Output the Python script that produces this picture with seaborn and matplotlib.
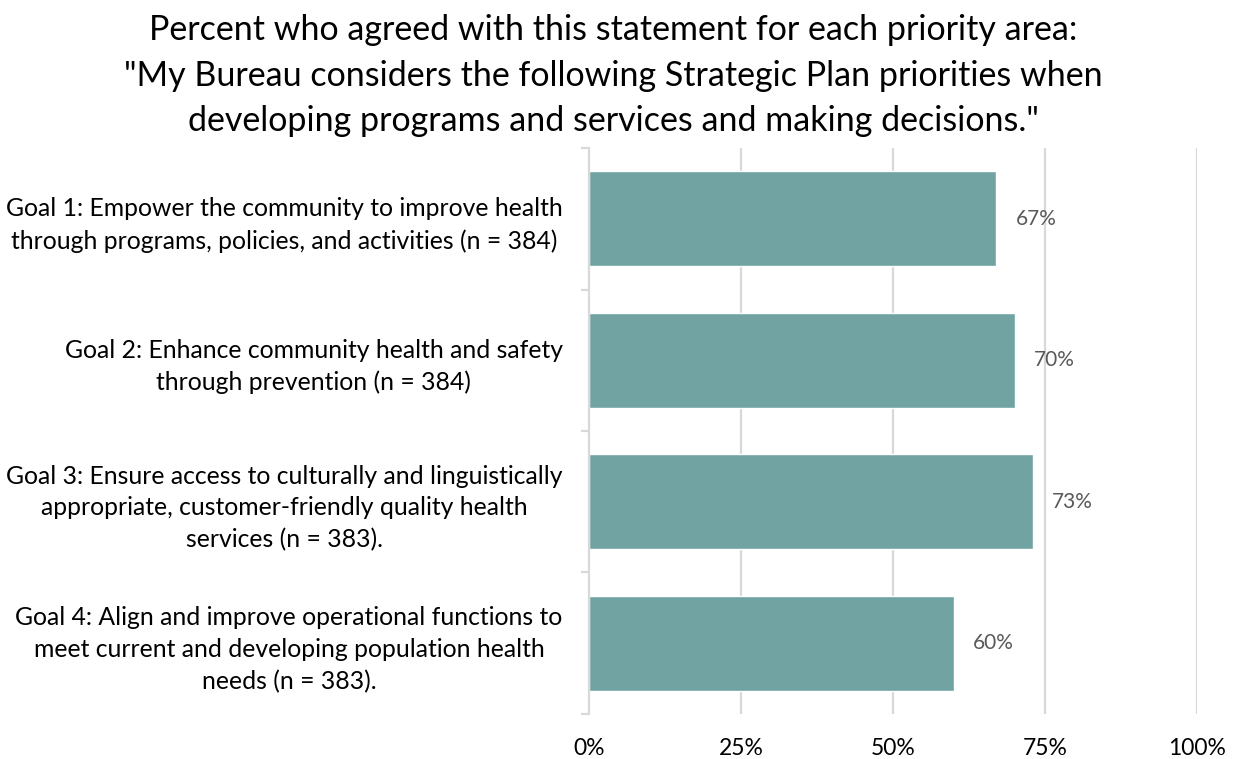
import matplotlib
matplotlib.use("Agg")
import matplotlib.pyplot as plt
from matplotlib.ticker import FixedLocator, PercentFormatter
import seaborn as sns
import pandas as pd

# Survey results per Strategic Plan goal
goals = [
    "Goal 1: Empower the community to improve health\nthrough programs, policies, and activities (n = 384)",
    "Goal 2: Enhance community health and safety\nthrough prevention (n = 384)",
    "Goal 3: Ensure access to culturally and linguistically\nappropriate, customer-friendly quality health\nservices (n = 383).",
    "Goal 4: Align and improve operational functions to\nmeet current and developing population health\nneeds (n = 383).",
]
percent_agreed = [67, 70, 73, 60]
x_ticks = [0, 25, 50, 75, 100]

title = ('Percent who agreed with this statement for each priority area:\n'
         '"My Bureau considers the following Strategic Plan priorities when\n'
         'developing programs and services and making decisions."')

df = pd.DataFrame({"goal": goals, "pct": percent_agreed})

sns.set_theme(style="white")
plt.rcParams["font.family"] = ["Lato", "DejaVu Sans"]

BAR = "#71A3A3"
GRID = "#D9D9D9"

fig = plt.figure(figsize=(12.34, 7.59), dpi=100)
ax = fig.add_axes([0.4773, 0.0593, 0.4927, 0.7457])

sns.barplot(data=df, x="pct", y="goal", orient="h", color=BAR,
            width=0.67, saturation=1, ax=ax)

ax.set_xlim(0, 100)
ax.set_ylim(len(goals) - 0.5, -0.5)
ax.set_xlabel("")
ax.set_ylabel("")

# vertical gridlines
for v in x_ticks[1:]:
    ax.axvline(v, color=GRID, lw=1.6, zorder=0)

for s in ["top", "right", "bottom"]:
    ax.spines[s].set_visible(False)
ax.spines["left"].set_color(GRID)
ax.spines["left"].set_linewidth(1.6)

ax.xaxis.set_major_locator(FixedLocator(x_ticks))
ax.xaxis.set_major_formatter(PercentFormatter(decimals=0))
ax.tick_params(axis="x", length=0, pad=17, labelsize=16.5, labelcolor="#000000")

# category labels at centres, tick marks at category boundaries
ax.set_yticks(range(len(goals)))
ax.set_yticklabels(goals, multialignment="center", linespacing=1.45)
ax.tick_params(axis="y", which="major", length=0, pad=19, labelsize=17.8,
               labelcolor="#000000")
ax.yaxis.set_minor_locator(FixedLocator([i - 0.5 for i in range(len(goals) + 1)]))
ax.tick_params(axis="y", which="minor", left=True, length=6, width=1.6,
               color=GRID)

for i, v in enumerate(percent_agreed):
    ax.text(v + 3.2, i, f"{v}%", va="center", ha="left",
            fontsize=15, color="#595959")

fig.text(0.497, 0.981, title, ha="center", va="top", fontsize=24.5,
         linespacing=1.52, color="#000000")

fig.savefig("out.png", dpi=100)
